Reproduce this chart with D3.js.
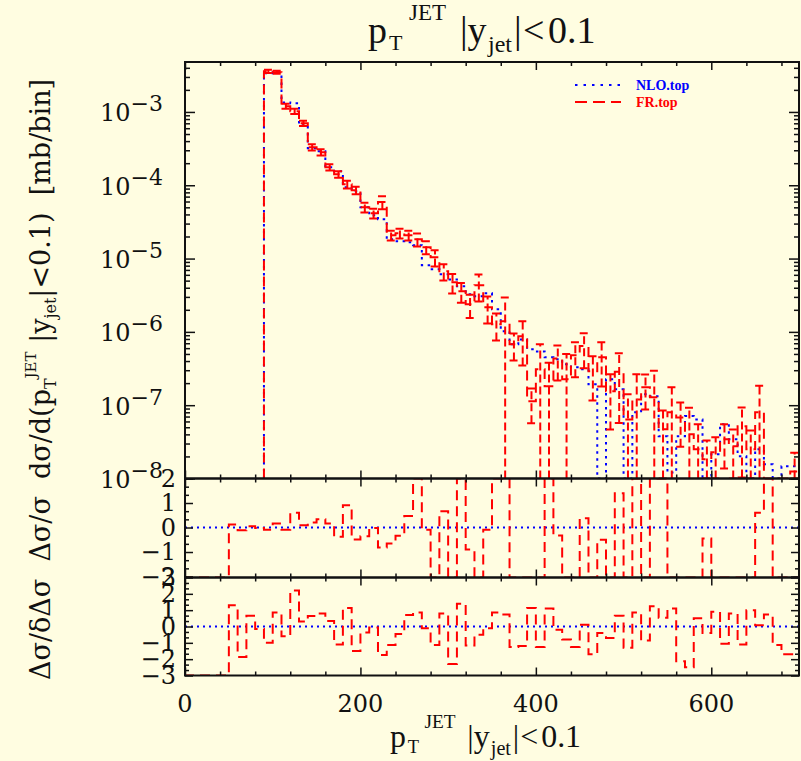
<!DOCTYPE html>
<html>
<head>
<meta charset="utf-8">
<script src="https://d3js.org/d3.v7.min.js"></script>
<style>
  body { margin: 0; background: #fffde1; }
  svg { display: block; }
  .tl { font-family: "DejaVu Serif", serif; font-size: 24px; fill: #111; }
  .ser { font-family: "Liberation Serif", serif; fill: #111; white-space: pre; }
  .ylab { font-family: "DejaVu Serif", serif; fill: #111; white-space: pre; }
</style>
</head>
<body>
<div id="viz"></div>
<script>
// low edge of each 10 GeV bin, top panel
const topBins = [90,100,110,120,130,140,150,160,170,180,190,200,210,220,230,240,250,260,270,280,
  290,300,310,320,330,340,350,360,370,380,390,400,410,420,430,440,450,460,470,480,
  490,500,510,520,530,540,550,560,570,580,590,600,610,620,630,640,650,660,670,680,690];

// NLO.top  [mb/bin]
const nloTop = [3.38e-3,3.48e-3,1.35e-3,1.31e-3,6.6e-4,3.2e-4,2.91e-4,1.76e-4,1.55e-4,9.4e-5,
  8.3e-5,5.0e-5,3.9e-5,3.44e-5,1.83e-5,1.72e-5,1.67e-5,1.52e-5,8.1e-6,7.15e-6,
  6.1e-6,5.2e-6,4.19e-6,3.26e-6,3.06e-6,3.36e-6,2.03e-6,1.02e-6,6.8e-7,7.9e-7,
  5.8e-7,5.4e-7,4.5e-7,4.23e-7,3.61e-7,3.29e-7,3.09e-7,1.93e-7,0,2.26e-7,
  1.65e-7,0,8.0e-8,1.41e-7,1.32e-7,3.77e-8,1.21e-8,3.77e-8,7.1e-8,6.4e-8,
  0,2.14e-8,5.5e-8,3.43e-8,2.01e-8,0,2.5e-8,1.56e-8,0,1.47e-8,1.47e-8];

// FR.top  [mb/bin]
const frTop = [3.59e-3,3.48e-3,1.20e-3,1.02e-3,7.0e-4,3.30e-4,2.82e-4,1.76e-4,1.41e-4,1.03e-4,
  8.55e-5,5.0e-5,4.15e-5,5.9e-5,2.08e-5,2.21e-5,2.08e-5,1.83e-5,1.43e-5,1.04e-5,
  6.7e-6,4.75e-6,3.58e-6,2.38e-6,4.33e-6,2.17e-6,1.27e-6,1.40e-6,6.8e-7,8.7e-7,
  1.13e-7,3.09e-7,1.81e-7,4.35e-7,2.26e-7,4.8e-7,6.4e-7,2.9e-7,4.5e-7,1.55e-7,
  2.85e-7,6.4e-8,1.2e-7,1.75e-7,1.28e-7,4.7e-8,8.0e-8,6.8e-8,4.0e-8,2.5e-8,
  1.83e-8,2.28e-8,3.43e-8,2.75e-8,5.15e-8,2.5e-8,8.0e-8,0,0,0,1.25e-8];

// FR.top relative error
const frErr = [0.05,0.05,0.08,0.08,0.08,0.1,0.1,0.1,0.1,0.12,
  0.12,0.15,0.15,0.2,0.15,0.15,0.15,0.2,0.2,0.25,
  0.25,0.3,0.3,0.35,0.4,0.4,0.4,1.1,0.4,0.6,
  0.5,1.2,1.1,0.5,1.2,0.5,0.5,0.6,0.6,0.7,
  0.8,1.2,1.2,0.5,1.3,0.8,1.2,0.6,1.3,1.2,
  0.8,0.6,0.6,0.7,0.8,0.8,1.3,0,0,0,0.8];

// low edges for the two ratio panels
const ratioBins = [50,60,70,80,90,100,110,120,130,140,150,160,170,180,190,200,210,220,230,240,
  250,260,270,280,290,300,310,320,330,340,350,360,370,380,390,400,410,420,430,440,
  450,460,470,480,490,500,510,520,530,540,550,560,570,580,590,600,610,620,630,640,
  650,660,670,680,690];

// delta sigma / sigma
const dRatio = [0.12,-0.11,0.05,-0.02,-0.09,0.16,-0.09,0.6,0.09,0.2,
  0.34,0.16,-0.38,0.91,-0.49,-0.36,-0.02,-0.82,-0.65,-0.34,
  0.47,2.0,-0.09,-3,0.66,-3,3,-0.9,-3,-0.09,
  3,3,-3,-3,-3,-3,3,-0.33,-3,-3,
  0.38,-3,-0.5,-3,1.4,-3,3,-3,3,3,
  -3,-3,-3,-3,-0.45,-3,-3,-3,-3,-3,
  0.6,3,-3,-3,-3];

// delta sigma / delta(delta sigma)
const pull = [1.3,-1.86,0.66,-0.16,-1.0,0.86,-0.6,2.2,0.3,0.64,
  0.8,0.34,-1.1,1.14,-1.5,-0.36,-0.06,-1.74,-1.14,-0.46,
  0.7,0.86,-0.1,-1.14,0.8,-2.3,1.4,-1.16,-0.5,-0.1,
  0.86,0.74,-1.26,-1.2,1.14,-1.26,1.1,-0.2,-0.8,-1.26,
  0.1,-1.7,-0.4,-0.7,0.66,-1.3,0.86,-0.86,1.24,0.54,
  1.1,-2.13,-2.5,0.5,-0.4,0.9,-1.05,0.8,-1.1,1.0,
  0.08,0.74,-1.14,-1.7,-1.7];

const xTicks = [0,40,80,120,160,200,240,280,320,360,400,440,480,520,560,600,640,680];
const xLabels = [0,200,400,600];
const decades = [1e-3,1e-4,1e-5,1e-6,1e-7,1e-8];
const midLabels = [2,1,0,-1,-2];
const botLabels = [3,2,1,0,-1,-2,-3];

const W = 801, H = 761, BW = 10;
const RED = "#ff0000", BLUE = "#0000ff", INK = "#111";

const svg = d3.select("#viz").append("svg").attr("width", W).attr("height", H);
svg.append("rect").attr("width", W).attr("height", H).attr("fill", "#fffde1");

const x = d3.scaleLinear().domain([0, 700]).range([185, 799]);
const yTop = d3.scaleLog().domain([1e-8, 4.8e-3]).range([478.5, 62]).clamp(true);
const yMid = d3.scaleLinear().domain([-2.04, 2]).range([577.5, 478.5]).clamp(true);
const yBot = d3.scaleLinear().domain([-3, 3]).range([675.5, 577.5]).clamp(true);
const yT = v => yTop(v > 0 ? v : 1e-12);

const panels = [
  {id: "p1", y: yTop},
  {id: "p2", y: yMid},
  {id: "p3", y: yBot}
];

const defs = svg.append("defs");
panels.forEach(p => {
  const r = p.y.range();
  defs.append("clipPath").attr("id", "clip-" + p.id)
    .append("rect").attr("x", x(0)).attr("y", r[1])
    .attr("width", x(700) - x(0)).attr("height", r[0] - r[1]);
});

// step histogram path
function stepPath(bins, vals, y, start) {
  let d = start;
  bins.forEach((b, i) => { d += "V" + y(vals[i]) + "H" + x(b + BW); });
  return d;
}

// ---- top panel
const g1 = svg.append("g").attr("clip-path", "url(#clip-p1)");

g1.append("path")
  .attr("d", stepPath(topBins, nloTop, yT, "M" + x(topBins[0]) + "," + yTop(1e-8)))
  .attr("fill", "none").attr("stroke", BLUE).attr("stroke-width", 2)
  .attr("stroke-dasharray", "2.5,4.5");

g1.append("path")
  .attr("d", stepPath(topBins, frTop, yT, "M" + x(topBins[0]) + "," + yTop(1e-8)))
  .attr("fill", "none").attr("stroke", RED).attr("stroke-width", 2)
  .attr("stroke-dasharray", "10,6");

// error bars on FR
const errs = topBins.map((b, i) => ({b: b, v: frTop[i], e: frErr[i]})).filter(d => d.v > 0 && d.e > 0);
g1.selectAll(".ebar").data(errs).enter().append("path")
  .attr("class", "ebar")
  .attr("d", d => {
    const hi = yT(d.v * (1 + d.e)), lo = yT(d.v * (1 - d.e));
    const cx = x(d.b + BW / 2);
    let s = "M" + cx + "," + lo + "V" + hi + "M" + x(d.b) + "," + hi + "H" + x(d.b + BW);
    if (d.e < 1) s += "M" + x(d.b) + "," + lo + "H" + x(d.b + BW);
    return s;
  })
  .attr("fill", "none").attr("stroke", RED).attr("stroke-width", 2)
  .attr("stroke-dasharray", "8,4");

// ---- ratio panels
function ratioPanel(id, y, vals) {
  const g = svg.append("g").attr("clip-path", "url(#clip-" + id + ")");
  g.append("line")
    .attr("x1", x(0)).attr("x2", x(700)).attr("y1", y(0)).attr("y2", y(0))
    .attr("stroke", BLUE).attr("stroke-width", 2).attr("stroke-dasharray", "2,4");
  const start = "M" + x(0) + "," + y(0) + "V" + y(-10) + "H" + x(ratioBins[0]);
  g.append("path")
    .attr("d", stepPath(ratioBins, vals, y, start))
    .attr("fill", "none").attr("stroke", RED).attr("stroke-width", 2)
    .attr("stroke-dasharray", "10,6");
}
ratioPanel("p2", yMid, dRatio);
ratioPanel("p3", yBot, pull);

// ---- ticks
function tickStyle(g) {
  g.select(".domain").remove();
  g.attr("color", INK).selectAll(".tick line").attr("stroke-width", 1.5);
}

const logTicks = yTop.ticks();
const isDecade = v => Math.abs(Math.log10(v) - Math.round(Math.log10(v))) < 1e-6;
svg.append("g").attr("transform", `translate(${x(0)},0)`)
  .call(d3.axisLeft(yTop).tickValues(logTicks).tickSize(-5).tickFormat(""))
  .call(tickStyle)
  .selectAll(".tick line").attr("x2", d => isDecade(d) ? 10 : 5);
svg.append("g").attr("transform", `translate(${x(700)},0)`)
  .call(d3.axisRight(yTop).tickValues(logTicks).tickSize(-5).tickFormat(""))
  .call(tickStyle)
  .selectAll(".tick line").attr("x2", d => isDecade(d) ? -10 : -5);

[[yMid, -6, 6], [yBot, -9, 9]].forEach(([y, a, b]) => {
  const vals = d3.range(a, b + 1).map(k => k / 3);
  const major = v => Math.abs(v - Math.round(v)) < 1e-6;
  svg.append("g").attr("transform", `translate(${x(0)},0)`)
    .call(d3.axisLeft(y).tickValues(vals).tickSize(-4).tickFormat(""))
    .call(tickStyle)
    .selectAll(".tick line").attr("x2", d => major(d) ? 8 : 4);
  svg.append("g").attr("transform", `translate(${x(700)},0)`)
    .call(d3.axisRight(y).tickValues(vals).tickSize(-4).tickFormat(""))
    .call(tickStyle)
    .selectAll(".tick line").attr("x2", d => major(d) ? -8 : -4);
});

panels.forEach(p => {
  const r = p.y.range();
  svg.append("g").attr("transform", `translate(0,${r[1]})`)
    .call(d3.axisTop(x).tickValues(xTicks).tickSize(-4).tickFormat(""))
    .call(tickStyle)
    .selectAll(".tick line").attr("y2", d => d % 200 === 0 ? 8 : 4);
  svg.append("g").attr("transform", `translate(0,${r[0]})`)
    .call(d3.axisBottom(x).tickValues(xTicks).tickSize(-4).tickFormat(""))
    .call(tickStyle)
    .selectAll(".tick line").attr("y2", d => d % 200 === 0 ? -8 : -4);
});

// frames
panels.forEach(p => {
  const r = p.y.range();
  svg.append("rect")
    .attr("x", x(0)).attr("y", r[1]).attr("width", x(700) - x(0)).attr("height", r[0] - r[1])
    .attr("fill", "none").attr("stroke", INK).attr("stroke-width", 2);
});

// ---- tick labels
decades.forEach(v => {
  const t = svg.append("text").attr("class", "tl").attr("text-anchor", "end")
    .attr("x", 163).attr("y", yTop(v) + 9.5);
  t.append("tspan").text("10");
  t.append("tspan").attr("dy", -10).attr("font-size", 22).text("\u2212" + Math.round(-Math.log10(v)));
});
midLabels.forEach(v => {
  svg.append("text").attr("class", "tl").attr("text-anchor", "end")
    .attr("x", 176).attr("y", yMid(v) + 8)
    .text(v < 0 ? "\u2212" + (-v) : v);
});
botLabels.forEach(v => {
  svg.append("text").attr("class", "tl").attr("text-anchor", "end")
    .attr("x", 176).attr("y", yBot(v) + 8)
    .text(v < 0 ? "\u2212" + (-v) : v);
});
xLabels.forEach(v => {
  svg.append("text").attr("class", "tl").attr("text-anchor", "middle")
    .attr("x", x(v)).attr("y", 712).text(v);
});

// ---- p_T^JET |y_jet|<0.1  (title and x label)
function ptLabel(x0, base, s) {
  const g = svg.append("g").attr("transform", `translate(${x0},${base}) scale(${s})`);
  const parts = [
    {t: "p", dx: 0, dy: 0, f: 38},
    {t: "T", dx: 21, dy: 7, f: 22},
    {t: "JET", dx: 41, dy: -23, f: 23},
    {t: "|y", dx: 92, dy: 0, f: 38},
    {t: "jet", dx: 120, dy: 9, f: 24},
    {t: "|", dx: 146, dy: 0, f: 38},
    {t: "<", dx: 155, dy: 0, f: 38},
    {t: "0.1", dx: 180, dy: 0, f: 38}
  ];
  parts.forEach(p => {
    g.append("text").attr("class", "ser").attr("x", p.dx).attr("y", p.dy)
      .attr("font-size", p.f).text(p.t);
  });
}
ptLabel(368, 43, 1);
ptLabel(390, 747, 0.84);

// ---- y label
const yl = svg.append("text").attr("class", "ylab").attr("font-size", 27)
  .attr("transform", "translate(50,680) rotate(-90)");
yl.append("tspan").text("\u0394\u03c3/\u03b4\u0394\u03c3  \u0394\u03c3/\u03c3  d\u03c3/d(p");
yl.append("tspan").attr("font-size", 16).attr("dy", 6).text("T");
yl.append("tspan").attr("font-size", 15).attr("dy", -20).text("JET");
yl.append("tspan").attr("dy", 14).text(" |y");
yl.append("tspan").attr("font-size", 16).attr("dy", 6).text("jet");
yl.append("tspan").attr("dy", -6).text("|<0.1)  [mb/bin]");

// ---- legend
const legend = [
  {name: "NLO.top", color: BLUE, dash: "2.5,6", y: 85},
  {name: "FR.top", color: RED, dash: "12,6", y: 102}
];
legend.forEach(l => {
  svg.append("line").attr("x1", 575).attr("x2", 621).attr("y1", l.y).attr("y2", l.y)
    .attr("stroke", l.color).attr("stroke-width", 2).attr("stroke-dasharray", l.dash);
  svg.append("text").attr("x", 636).attr("y", l.y + 5)
    .attr("font-family", "Liberation Serif, serif").attr("font-weight", "bold")
    .attr("font-size", 14).attr("fill", l.color).text(l.name);
});
</script>
</body>
</html>
